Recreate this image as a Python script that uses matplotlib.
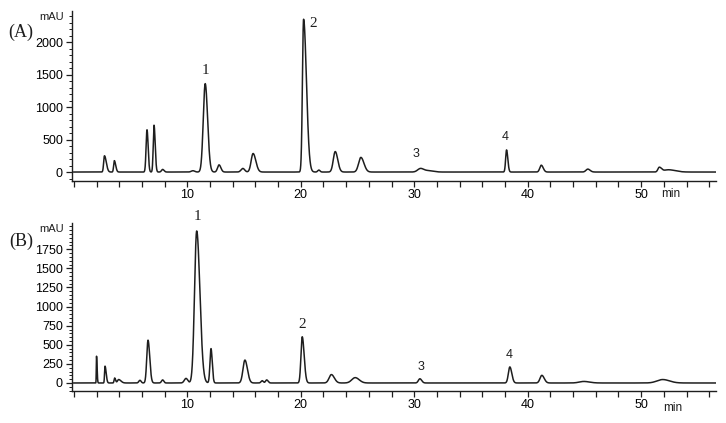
import numpy as np
import matplotlib
matplotlib.use("Agg")
import matplotlib.pyplot as plt
from matplotlib.ticker import MultipleLocator

# ---- Data (peak retention times in min, heights in mAU,
# ---- left / right half-widths (sigma, min)) ----
a_times   = [2.7, 3.57, 6.45, 7.07, 7.83, 10.5, 11.58, 12.8, 14.9, 15.8, 20.25, 21.6, 23.04, 25.3, 30.56, 31.3, 38.14, 41.2, 45.3, 51.6, 52.4]
a_heights = [250, 175, 650, 720, 40, 20, 1360, 110, 55, 285, 2350, 30, 315, 225, 55, 20, 340, 105, 45, 70, 35]
a_sig_l   = [0.07, 0.06, 0.08, 0.07, 0.1, 0.15, 0.17, 0.13, 0.16, 0.17, 0.1, 0.1, 0.17, 0.2, 0.25, 0.3, 0.08, 0.13, 0.16, 0.12, 0.4]
a_sig_r   = [0.16, 0.12, 0.1, 0.1, 0.12, 0.15, 0.21, 0.16, 0.16, 0.24, 0.25, 0.1, 0.22, 0.27, 0.3, 0.4, 0.11, 0.17, 0.2, 0.2, 0.6]

b_times   = [2.0, 2.75, 3.6, 3.95, 5.83, 6.54, 7.83, 9.89, 10.83, 12.09, 15.08, 16.6, 17.0, 20.13, 22.7, 24.8, 30.5, 38.43, 41.25, 44.95, 51.9]
b_heights = [350, 220, 65, 45, 35, 560, 40, 60, 1990, 450, 300, 30, 40, 605, 110, 70, 55, 210, 100, 20, 45]
b_sig_l   = [0.02, 0.04, 0.05, 0.1, 0.1, 0.11, 0.1, 0.15, 0.19, 0.09, 0.17, 0.1, 0.1, 0.11, 0.2, 0.3, 0.13, 0.13, 0.16, 0.4, 0.5]
b_sig_r   = [0.05, 0.1, 0.08, 0.2, 0.1, 0.15, 0.1, 0.15, 0.28, 0.11, 0.22, 0.1, 0.12, 0.17, 0.26, 0.35, 0.16, 0.17, 0.21, 0.5, 0.6]

peak_ids = ["1", "2", "3", "4"]
a_label_t = [11.6, 21.1, 30.2, 38.05]
a_label_v = [1560, 2290, 272, 534]
b_label_t = [10.94, 20.13, 30.56, 38.35]
b_label_v = [2177, 759, 214, 366]


def trace(t, times, heights, sl, sr):
    y = np.zeros_like(t)
    for c, h, s1, s2 in zip(times, heights, sl, sr):
        s = np.where(t < c, s1, s2)
        y += h * np.exp(-0.5 * ((t - c) / s) ** 2)
    return y


t = np.arange(0, 56.6, 0.004)

fig = plt.figure(figsize=(7.26, 4.23), dpi=100)
axA = fig.add_axes([72/726, 1-181/423, (716-72)/726, (181-11)/423])
axB = fig.add_axes([72/726, 1-391/423, (716-72)/726, (391-222.7)/423])

tick_font = {"family": "Liberation Sans", "size": 9}
col = "#1e1e1e"

for ax, times, hs, sl, sr, ylim, ymaj, ymin_, lt, lv in [
    (axA, a_times, a_heights, a_sig_l, a_sig_r, (-138, 2477), 500, 100, a_label_t, a_label_v),
    (axB, b_times, b_heights, b_sig_l, b_sig_r, (-105, 2098), 250, 50, b_label_t, b_label_v),
]:
    ax.plot(t, trace(t, times, hs, sl, sr), color=col, lw=1.1)
    ax.set_xlim(-0.16, 56.6)
    ax.set_ylim(*ylim)
    for s in ("top", "right"):
        ax.spines[s].set_visible(False)
    for s in ("left", "bottom"):
        ax.spines[s].set_linewidth(1.0)
        ax.spines[s].set_color(col)
    ax.xaxis.set_major_locator(MultipleLocator(10))
    ax.xaxis.set_minor_locator(MultipleLocator(2))
    ax.yaxis.set_major_locator(MultipleLocator(ymaj))
    ax.yaxis.set_minor_locator(MultipleLocator(ymin_))
    ax.tick_params(axis="x", which="both", length=4, width=0.9, color=col, pad=1.5)
    ax.tick_params(axis="y", which="major", length=4, width=0.9, color=col, pad=2.5)
    ax.tick_params(axis="y", which="minor", length=2.5, width=0.7, color=col)
    ax.set_xticks([10, 20, 30, 40, 50])
    ax.set_xticklabels(["10", "20", "30", "40", "50"], **tick_font)
    yt = [v for v in ax.get_yticks() if 0 <= v <= ylim[1] - 150]
    ax.set_yticks(yt)
    ax.set_yticklabels([str(int(v)) for v in yt], **tick_font)
    for i, (pid, x, y) in enumerate(zip(peak_ids, lt, lv)):
        fam = "Liberation Serif" if i < 2 else "Liberation Sans"
        fs = 11 if i < 2 else 9
        ax.text(x, y, pid, ha="center", va="center", family=fam, fontsize=fs,
                color=col, clip_on=False)

fig.text(64/726, 1-17/423, "mAU", ha="right", va="center", family="Liberation Sans", fontsize=8, color=col)
fig.text(64/726, 1-229/423, "mAU", ha="right", va="center", family="Liberation Sans", fontsize=8, color=col)
fig.text(671/726, 1-194/423, "min", ha="center", va="center", family="Liberation Sans", fontsize=8.5, color=col)
fig.text(673/726, 1-408/423, "min", ha="center", va="center", family="Liberation Sans", fontsize=8.5, color=col)
fig.text(21/726, 1-32/423, "(A)", ha="center", va="center", family="Liberation Serif", fontsize=13, color=col)
fig.text(21/726, 1-241/423, "(B)", ha="center", va="center", family="Liberation Serif", fontsize=13, color=col)

fig.savefig("out.png", dpi=100)
